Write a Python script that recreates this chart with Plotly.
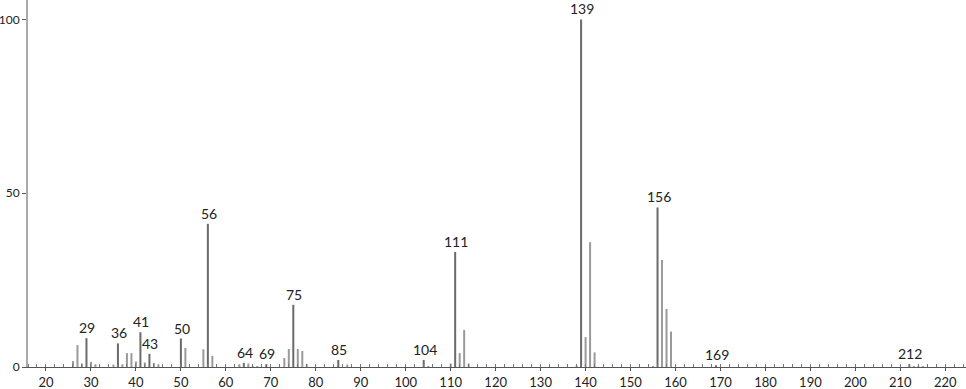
import plotly.graph_objects as go

mz = [26, 27, 28, 29, 30, 31, 35, 36, 37, 38, 39, 40, 41, 42, 43, 44, 45,
      50, 51, 55, 56, 57, 63, 64, 65, 66, 67, 69, 73, 74, 75, 76, 77, 78,
      85, 87, 104, 105, 110, 111, 112, 113, 114, 138, 139, 140, 141, 142,
      155, 156, 157, 158, 159, 169, 212, 213, 214, 215]
intensity = [1.7, 6.3, 1.0, 8.3, 1.5, 0.8, 0.7, 6.8, 0.8, 4.0, 4.0, 1.6, 10.0, 1.3, 3.8, 1.2, 0.8,
             8.2, 5.5, 5.1, 41.2, 3.2, 0.8, 1.2, 1.0, 0.3, 0.3, 0.8, 2.6, 5.2, 17.9, 5.2, 4.6, 0.8,
             2.0, 0.7, 2.0, 0.3, 1.0, 33.1, 4.0, 10.7, 1.0, 0.4, 100.0, 8.6, 35.9, 4.2,
             0.3, 45.9, 30.8, 16.7, 10.2, 0.5, 0.8, 0.3, 0.3, 0.3]
labeled = [29, 36, 41, 43, 50, 56, 64, 69, 75, 85, 104, 111, 139, 156, 169, 212]
x_ticks = list(range(20, 221, 10))
y_ticks = [0, 50, 100]

FONT = "Lato, 'Open Sans', sans-serif"

def segs(sel):
    xs, ys = [], []
    for m, h in zip(mz, intensity):
        if sel(m):
            xs += [m, m, None]
            ys += [0, h, None]
    return xs, ys

fig = go.Figure()
x1, y1 = segs(lambda m: m not in labeled)
fig.add_trace(go.Scatter(x=x1, y=y1, mode="lines", line=dict(color="#9a9a9a", width=2),
                         hoverinfo="skip", showlegend=False))
x2, y2 = segs(lambda m: m in labeled)
fig.add_trace(go.Scatter(x=x2, y=y2, mode="lines", line=dict(color="#6a6a6a", width=2),
                         hoverinfo="skip", showlegend=False))

inten = dict(zip(mz, intensity))
for m in labeled:
    fig.add_annotation(x=m, y=inten[m], text=str(m), showarrow=False,
                       yanchor="bottom", yshift=0, xshift=1,
                       font=dict(family=FONT, size=14, color="#222"))

fig.update_layout(
    width=966, height=389,
    margin=dict(l=28, r=0, t=0, b=22),
    paper_bgcolor="white", plot_bgcolor="white",
    xaxis=dict(range=[16.0, 224.6], tickvals=x_ticks, ticktext=[str(v) for v in x_ticks],
               showgrid=False, zeroline=False, showline=True, linecolor="#555", linewidth=1,
               ticks="outside", ticklen=3, tickcolor="#555", automargin=False,
               minor=dict(dtick=2, tick0=0, ticks="inside", ticklen=3, tickcolor="#777"),
               tickfont=dict(family=FONT, size=13, color="#222"), fixedrange=True),
    yaxis=dict(range=[0, 105.6], tickvals=y_ticks, ticktext=[str(v) for v in y_ticks],
               showgrid=False, zeroline=False, showline=True, linecolor="#aaa", linewidth=2,
               ticks="outside", ticklen=4, tickcolor="#555", automargin=False,
               tickfont=dict(family=FONT, size=12, color="#222"), fixedrange=True),
)

fig.write_html("out.html")
